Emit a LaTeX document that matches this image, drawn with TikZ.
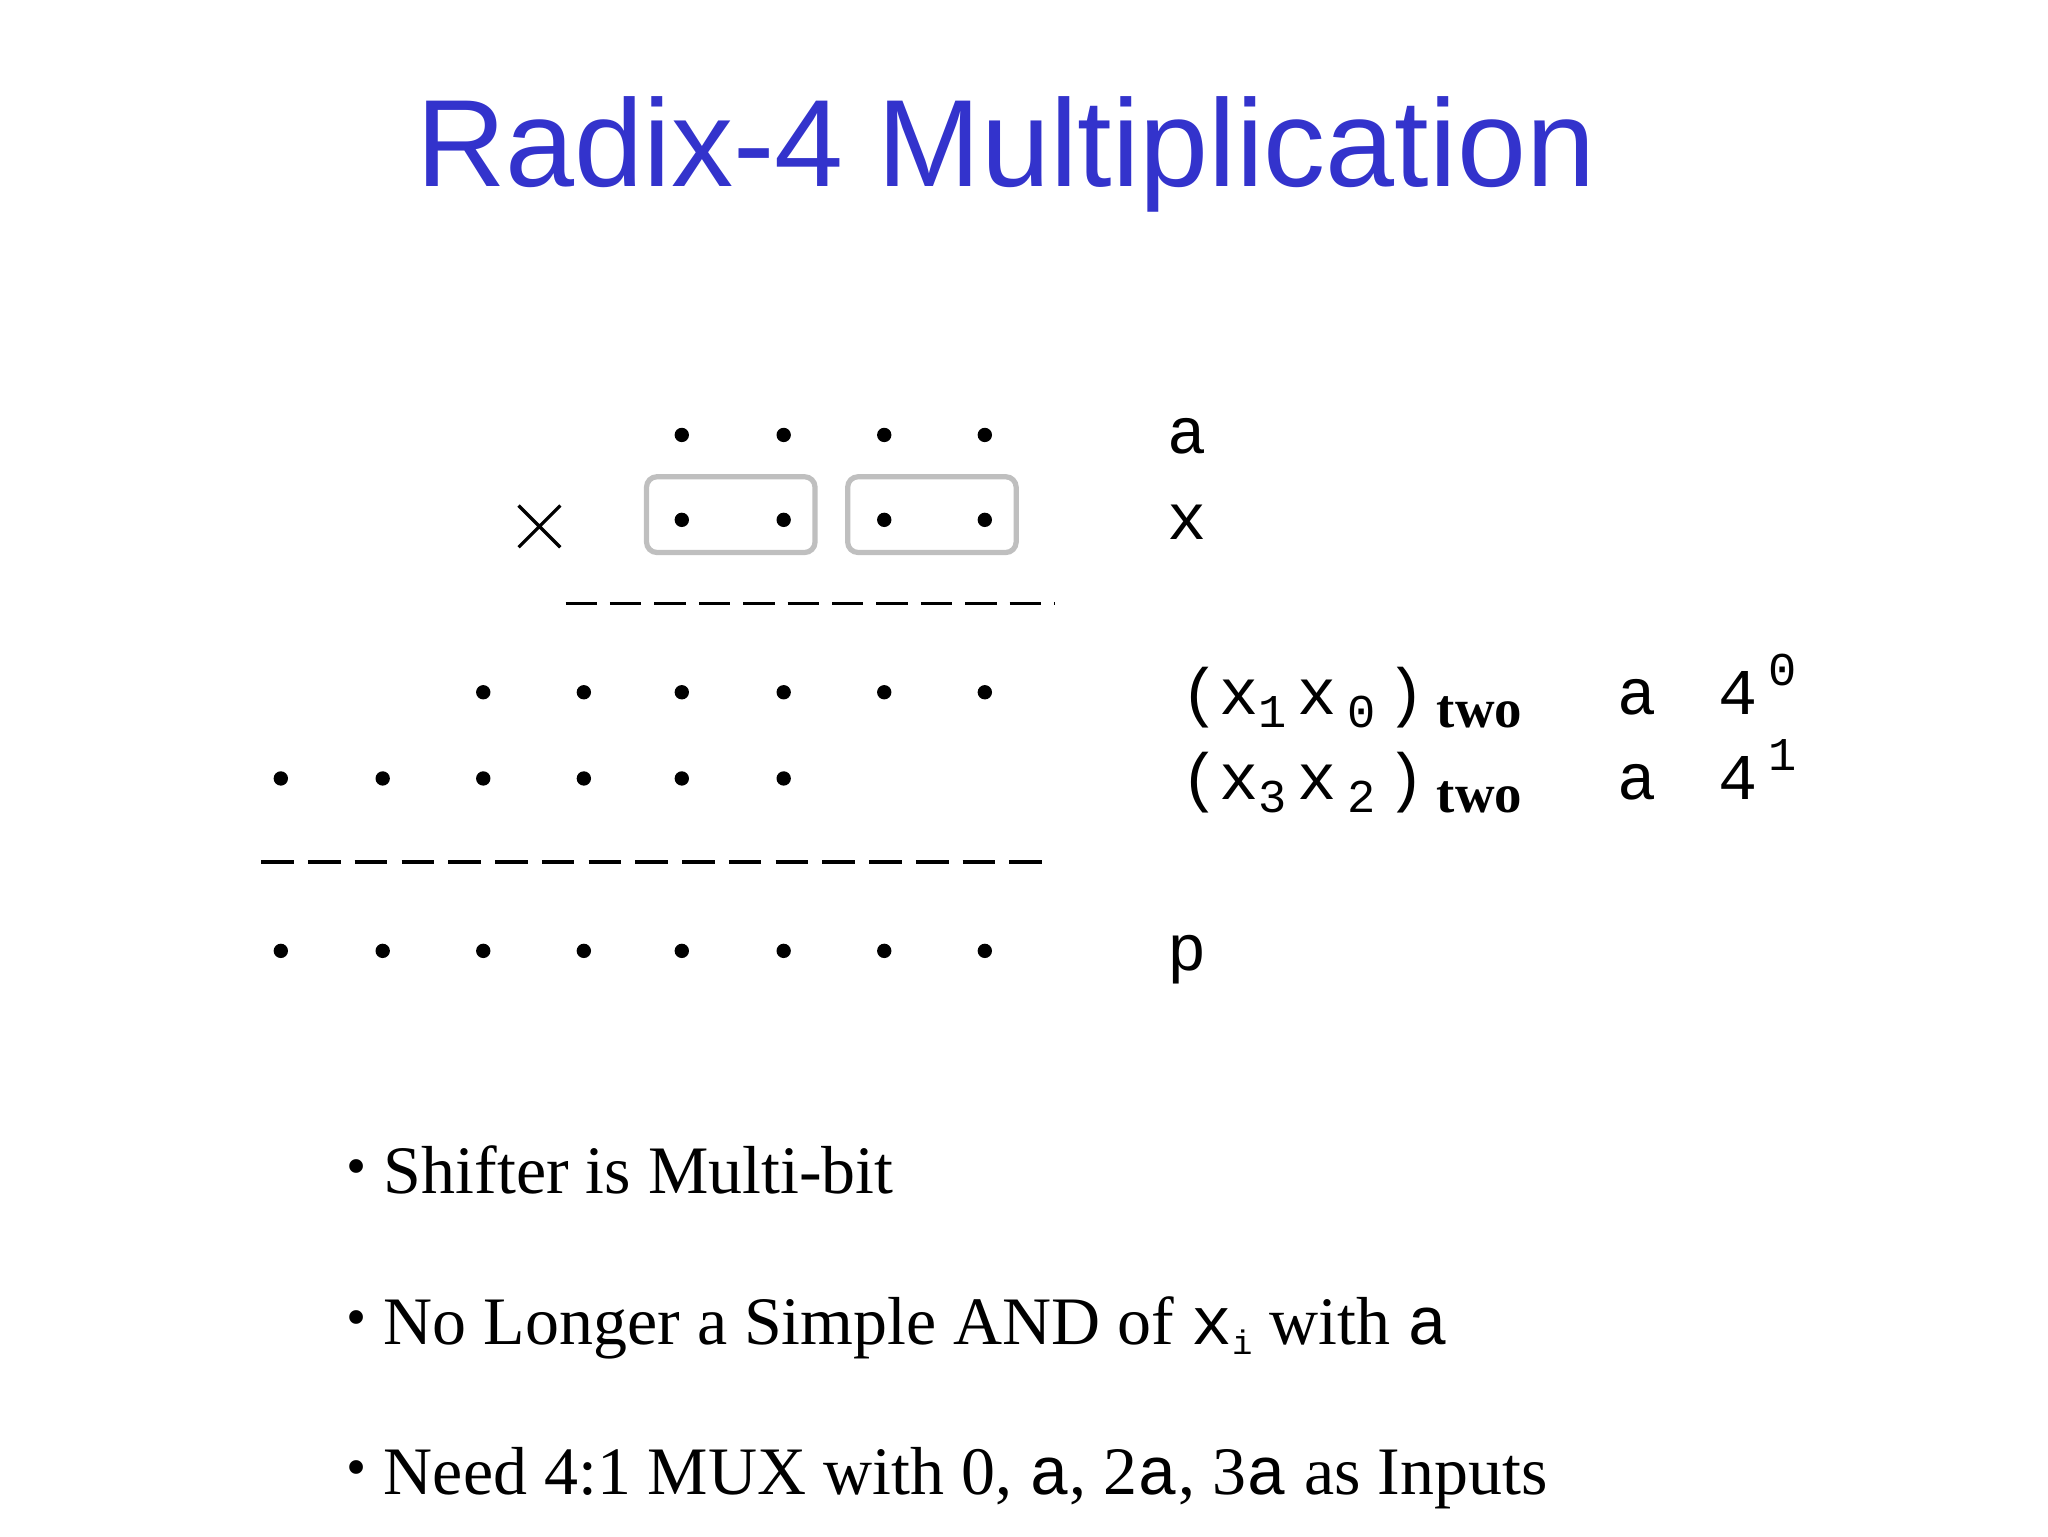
\documentclass[tikz,border=0pt]{standalone}
\usepackage{fontspec}
\setmainfont{Liberation Serif}
\newfontfamily\titlefont{Liberation Sans}
\newfontfamily\monof{Liberation Mono}
\definecolor{ttl}{RGB}{51,51,204}
\begin{document}
\begin{tikzpicture}[x=1pt,y=-1pt,
  dot/.style={circle,fill=black,inner sep=0pt,minimum size=11pt},
  grp/.style={draw=black!25,line width=4pt,rounded corners=8pt},
  mono/.style={font=\monof\fontsize{50}{50}\selectfont,anchor=base west},
  bul/.style={font=\fontsize{52}{52}\selectfont,anchor=base west}]
\useasboundingbox (0,0) rectangle (1568,1176);
\node[font=\titlefont\fontsize{95}{95}\selectfont,text=ttl] (title) at (770,118) {Radix-4 Multiplication};
\foreach \x in {522,600,677,754}{\node[dot] at (\x,333){}; \node[dot] at (\x,398){};}
\draw[grp] (495,365) rectangle (624,423);
\draw[grp] (649,365) rectangle (778,423);
\coordinate (t1) at (397,387); \coordinate (t2) at (429,419);
\coordinate (t3) at (397,419); \coordinate (t4) at (429,387);
\draw[line width=2.5pt] (t1) -- (t2) (t3) -- (t4);
\draw[line width=2.5pt,dash pattern=on 24pt off 10pt] (433,462) -- (808,462);
\foreach \x in {370,447,522,600,677,754}{\node[dot] at (\x,530){};}
\foreach \x in {215,293,370,447,522,600}{\node[dot] at (\x,596){};}
\draw[line width=2.5pt,dash pattern=on 25pt off 10.8pt] (200,660) -- (808,660);
\foreach \x in {215,293,370,447,522,600,677,754}{\node[dot] at (\x,728){};}
\node[mono] (la) at (890,347) {a};
\node[mono] (lx) at (890,413) {x};
\node[mono] (lp) at (890,743) {p};
\newcommand\sbs[1]{\raisebox{-10pt}{\fontsize{36}{36}\selectfont #1}}
\newcommand\two{\raisebox{-10pt}{\bfseries\rmfamily\fontsize{42}{42}\selectfont two}}
\node[mono] (r1) at (900,547) {(x\sbs{1}\,x\,\sbs{0}\,)\,\two};
\node[mono] (r2) at (900,612) {(x\sbs{3}\,x\,\sbs{2}\,)\,\two};
\node[mono] (a1) at (1235,547) {a};
\node[mono] (a2) at (1235,612) {a};
\node[mono] (f1) at (1312,547) {4\,\raisebox{22pt}{\fontsize{36}{36}\selectfont 0}};
\node[mono] (f2) at (1312,612) {4\,\raisebox{22pt}{\fontsize{36}{36}\selectfont 1}};
\newcommand\bl{\raisebox{6pt}{\fontsize{44}{44}\selectfont\textbullet}}
\node[bul] (b1) at (262,914) {\bl\ Shifter is Multi-bit};
\node[bul] (b2) at (262,1029) {\bl\ No Longer a Simple AND of {\monof x\raisebox{-8pt}{\fontsize{26}{26}\selectfont i}} with {\monof a}};
\node[bul] (b3) at (262,1144) {\bl\ Need 4:1 MUX with 0, {\monof a}, 2{\monof a}, 3{\monof a} as Inputs};
\end{tikzpicture}
\end{document}
